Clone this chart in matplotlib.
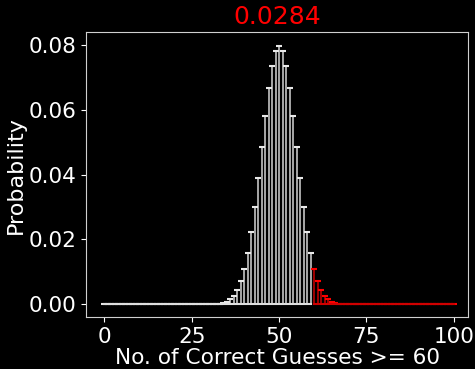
import matplotlib
matplotlib.use("Agg")
import matplotlib.pyplot as plt

# number of correct guesses out of 100
guesses = list(range(0, 101))
probs = [0.0] * 30 + [
    0.00002, 0.00005, 0.00011, 0.00023, 0.00046, 0.00086, 0.0016, 0.0027, 0.0045, 0.0071,
    0.0108, 0.0159, 0.0223, 0.0301, 0.0390, 0.0485, 0.0580, 0.0666, 0.0735, 0.0780,
    0.0796,
    0.0780, 0.0735, 0.0666, 0.0580, 0.0485, 0.0390, 0.0301, 0.0223, 0.0159, 0.0108,
    0.0071, 0.0045, 0.0027, 0.0016, 0.00086, 0.00046, 0.00023, 0.00011, 0.00005, 0.00002,
] + [0.0] * 30
cutoff = 60
tail_prob = "0.0284"

plt.style.use('dark_background')
fig, ax = plt.subplots(figsize=(4.75, 3.69), dpi=100)

lo_x = [g for g in guesses if g < cutoff]
lo_y = [p for g, p in zip(guesses, probs) if g < cutoff]
hi_x = [g for g in guesses if g >= cutoff]
hi_y = [p for g, p in zip(guesses, probs) if g >= cutoff]

m, s, b = ax.stem(lo_x, lo_y, linefmt='-', markerfmt='_', basefmt='-')
plt.setp(s, color='#a8a8a8', linewidth=1.4)
plt.setp(m, color='#e8e8e8', markersize=5, markeredgewidth=1.5)
plt.setp(b, color='#e0e0e0', linewidth=1.5)

m, s, b = ax.stem(hi_x, hi_y, linefmt='-', markerfmt='_', basefmt='-')
plt.setp(s, color='#a00000', linewidth=1.4)
plt.setp(m, color='#ff0000', markersize=5, markeredgewidth=1.5)
plt.setp(b, color='#d00000', linewidth=1.5)

ax.set_xlim(-5.1, 104.0)
ax.set_ylim(-0.0039, 0.0838)
ax.set_xticks([0, 25, 50, 75, 100])
ax.set_yticks([0.0, 0.02, 0.04, 0.06, 0.08])
ax.tick_params(labelsize=15.5)
for sp in ax.spines.values():
    sp.set_color('#d0d0d0')
ax.set_xlabel('No. of Correct Guesses >= ' + str(cutoff), fontsize=15.6, labelpad=1)
ax.set_ylabel('Probability', fontsize=16, labelpad=2)
ax.set_title(tail_prob, color='red', fontsize=18)

fig.subplots_adjust(left=0.182, right=0.985, top=0.912, bottom=0.141)
fig.savefig('out.png', dpi=100)
